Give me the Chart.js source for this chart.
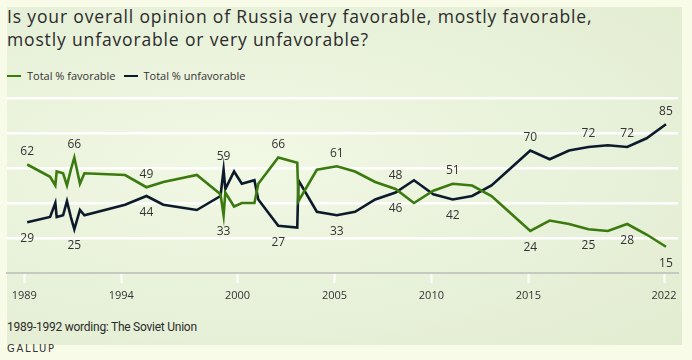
<!DOCTYPE html>
<html>
<head>
<meta charset="utf-8">
<script src="https://cdn.jsdelivr.net/npm/chart.js@4.4.1/dist/chart.umd.min.js"></script>
<style>
  html, body { margin:0; padding:0; }
  body { width:692px; height:360px; background:#f7fbe8; position:relative; overflow:hidden; font-family:"Open Sans", sans-serif; }
  #panel { position:absolute; left:7px; top:7px; width:675px; height:338px;
    background: radial-gradient(ellipse at 35% 45%, #f1f8e4 0%, #e8f1da 55%, #e2ecd0 100%); }
  #title { position:absolute; left:7px; top:5px; font-size:17.5px; line-height:23px; color:#2b2b2b; letter-spacing:0.85px; white-space:nowrap; }
  #legend { position:absolute; left:7px; top:68px; font-size:11px; color:#333; white-space:nowrap; }
  .sw { display:inline-block; width:14px; height:2.5px; vertical-align:middle; margin-right:6px; position:relative; top:-1px; }
  #foot { position:absolute; left:7px; top:320px; font-size:12px; color:#2b2b2b; font-family:"Roboto", sans-serif; letter-spacing:-0.25px; }
  #brand { position:absolute; left:7px; top:343px; font-size:10px; color:#333; font-family:"DejaVu Sans", sans-serif; letter-spacing:1.7px; }
  canvas { position:absolute; left:0; top:0; }
</style>
</head>
<body>
<div id="panel"></div>
<div id="title">Is your overall opinion of Russia very favorable, mostly favorable,<br>mostly unfavorable or very unfavorable?</div>
<div id="legend"><span class="sw" style="background:#3b7a0e"></span>Total % favorable<span class="sw" style="background:#0c1a2c;margin-left:8px"></span>Total % unfavorable</div>
<div id="foot">1989-1992 wording: The Soviet Union</div>
<div id="brand">GALLUP</div>
<canvas id="c" width="692" height="360"></canvas>
<script>
// Survey dates (decimal years)
const dates = [1989.15, 1990.33, 1990.6, 1990.67, 1991.0, 1991.2, 1991.4, 1991.58, 1991.87, 1992.1,
  1994.2, 1995.3, 1996.17, 1997.9, 1999.12, 1999.28, 1999.37, 1999.82, 2000.22, 2000.87,
  2001.07, 2002.1, 2003.08, 2003.14, 2004.09, 2005.12, 2006.06, 2007.1, 2008.15, 2009.1,
  2010.1, 2011.1, 2012.1, 2013.1, 2014.1, 2015.1, 2016.1, 2017.1, 2018.1, 2019.1,
  2020.1, 2021.1, 2022.1];
// Total % favorable
const favorable = [62, 55, 50, 58, 57, 50, 59, 66, 51, 57,
  56, 49, 52, 56, 45, 33, 46, 38, 40, 40,
  51, 66, 63, 41, 59, 61, 58, 52, 48, 40,
  47, 51, 50, 44, 34, 24, 30, 28, 25, 24,
  28, 22, 15];
// Total % unfavorable
const unfavorable = [29, 32, 40, 32, 33, 41, 32, 25, 36, 33,
  39, 44, 39, 36, 44, 59, 48, 58, 51, 53,
  42, 27, 26, 53, 35, 33, 35, 42, 46, 53,
  45, 42, 44, 50, 60, 70, 65, 70, 72, 73,
  72, 77, 85];
// X-axis tick labels
const tickYears = [1989, 1994, 2000, 2005, 2010, 2015, 2022];
// Labelled points (indices into the arrays) and label side
const favLabelIdx = [0, 7, 11, 15, 21, 25, 28, 31, 35, 38, 40, 42];
const favLabelSide = ['above','above','above','below','above','above','above','above','below','below','below','below'];
const unfavLabelIdx = [0, 7, 11, 15, 21, 25, 28, 31, 35, 38, 40, 42];
const unfavLabelSide = ['below','below','below','above','below','below','below','below','above','above','above','above'];

const GREEN = '#3b7a0e', NAVY = '#0c1a2c';

const labelPlugin = {
  id: 'pointLabels',
  afterDatasetsDraw(chart) {
    const ctx = chart.ctx;
    const xs = chart.scales.x, ys = chart.scales.y;
    ctx.save();
    ctx.font = '12px "Open Sans", sans-serif';
    ctx.fillStyle = '#333';
    ctx.textAlign = 'center';
    ctx.textBaseline = 'middle';
    const draw = (vals, idx, side) => {
      idx.forEach((i, k) => {
        const px = xs.getPixelForValue(dates[i]);
        const py = ys.getPixelForValue(vals[i]);
        const dy = side[k] === 'above' ? -13 : 16.5;
        ctx.fillText(String(vals[i]), px, py + dy);
      });
    };
    draw(favorable, favLabelIdx, favLabelSide);
    draw(unfavorable, unfavLabelIdx, unfavLabelSide);
    ctx.restore();
  }
};

new Chart(document.getElementById('c'), {
  type: 'line',
  data: {
    datasets: [
      { label: 'Total % favorable', data: dates.map((d, i) => ({ x: d, y: favorable[i] })),
        borderColor: GREEN, borderWidth: 2.6, pointRadius: 0, tension: 0, fill: false },
      { label: 'Total % unfavorable', data: dates.map((d, i) => ({ x: d, y: unfavorable[i] })),
        borderColor: NAVY, borderWidth: 2.6, pointRadius: 0, tension: 0, fill: false }
    ]
  },
  options: {
    responsive: false,
    animation: false,
    layout: { padding: { left: 7, right: 14, top: 98, bottom: 47 } },
    plugins: { legend: { display: false }, tooltip: { enabled: false } },
    scales: {
      x: {
        type: 'linear',
        min: 1988.107, max: 2022.72,
        afterBuildTicks: s => { s.ticks = tickYears.map(v => ({ value: v })); },
        afterFit: s => { s.height = 40; },
        grid: { drawOnChartArea: false, drawTicks: true, tickLength: 10, tickColor: '#ffffff', tickWidth: 2 },
        border: { display: true, color: '#c5c9bf', width: 2 },
        ticks: { color: '#333', font: { size: 11, family: '"Open Sans", sans-serif' }, padding: 6,
                 maxRotation: 0, autoSkip: false, callback: v => String(v) }
      },
      y: {
        min: 0, max: 100,
        afterBuildTicks: s => { s.ticks = [20, 40, 60, 80, 100].map(v => ({ value: v })); },
        afterFit: s => { s.width = 0; },
        grid: { color: '#ffffff', lineWidth: 2.5, drawTicks: false },
        border: { display: false },
        ticks: { display: false }
      }
    }
  },
  plugins: [labelPlugin]
});
</script>
</body>
</html>
